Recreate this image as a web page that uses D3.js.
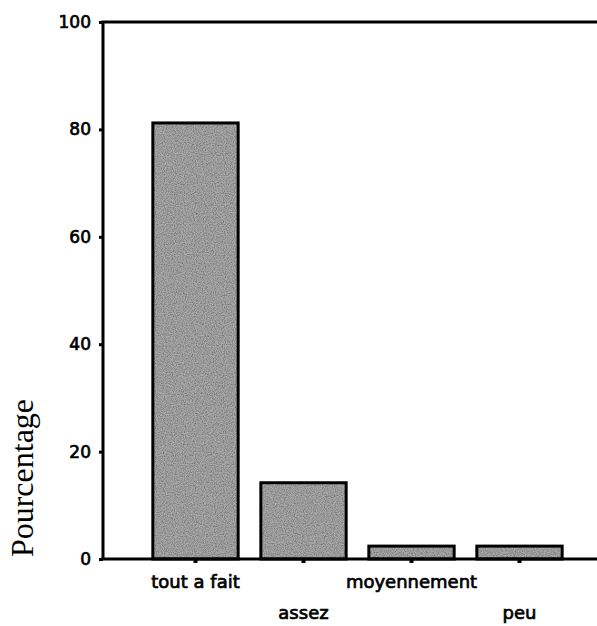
<!DOCTYPE html>
<html><head><meta charset="utf-8">
<script src="https://cdn.jsdelivr.net/npm/d3@7/dist/d3.min.js"></script>
<style>body{margin:0;background:#fff}svg{display:block}</style>
</head><body>
<script>
const categories = ["tout a fait", "assez", "moyennement", "peu"];
const values = [81.2, 14.2, 2.4, 2.4];
const yTicks = [0, 20, 40, 60, 80, 100];
const yLabel = "Pourcentage";

const W = 597, H = 626;
const svg = d3.select("body").append("svg").attr("width", W).attr("height", H);

const defs = svg.append("defs");
const f = defs.append("filter").attr("id","grain").attr("x",0).attr("y",0).attr("width",1).attr("height",1);
f.append("feTurbulence").attr("type","fractalNoise").attr("baseFrequency",0.9).attr("numOctaves",2).attr("seed",3).attr("result","n");
f.append("feColorMatrix").attr("in","n").attr("type","matrix")
 .attr("values","0 0 0 0 0  0 0 0 0 0  0 0 0 0 0  0 0 0 1.1 -0.35").attr("result","dark");
f.append("feComposite").attr("in","dark").attr("in2","SourceGraphic").attr("operator","in").attr("result","d2");
f.append("feMerge").call(m=>{m.append("feMergeNode").attr("in","SourceGraphic");m.append("feMergeNode").attr("in","d2");});

const x0 = 103, xEnd = 597, yTop = 22, yBot = 559;
const y = d3.scaleLinear().domain([0, 100]).range([yBot, yTop]);
const x = d3.scaleBand().domain(categories).range([141.5, 573.5]).paddingInner(0.21).paddingOuter(0.105);

// bars
svg.append("g").selectAll("rect").data(values).join("rect")
  .attr("x", (d,i) => x(categories[i]))
  .attr("y", d => y(d))
  .attr("width", x.bandwidth())
  .attr("height", d => y(0) - y(d))
  .attr("fill", "#aaaaaa")
  .attr("filter","url(#grain)");
svg.append("g").selectAll("rect").data(values).join("rect")
  .attr("x", (d,i) => x(categories[i]))
  .attr("y", d => y(d))
  .attr("width", x.bandwidth())
  .attr("height", d => y(0) - y(d))
  .attr("fill", "none").attr("stroke", "#000").attr("stroke-width", 3);

// frame lines
svg.append("line").attr("x1", x0).attr("x2", x0).attr("y1", yTop).attr("y2", yBot+1).attr("stroke","#000").attr("stroke-width",3);
svg.append("line").attr("x1", x0-1.5).attr("x2", xEnd).attr("y1", yTop).attr("y2", yTop).attr("stroke","#000").attr("stroke-width",3);
svg.append("line").attr("x1", x0-1.5).attr("x2", xEnd).attr("y1", yBot).attr("y2", yBot).attr("stroke","#000").attr("stroke-width",3);

// y axis
const yAxis = d3.axisLeft(y).tickValues(yTicks).tickSize(4).tickPadding(8);
const gy = svg.append("g").attr("transform", `translate(${x0},0)`).call(yAxis);
gy.select(".domain").remove();
gy.selectAll(".tick line").attr("stroke","#000").attr("stroke-width",3);
gy.selectAll(".tick text").attr("font-family","DejaVu Sans").attr("font-size",17)
  .attr("fill","#000").attr("stroke","#000").attr("stroke-width",0.7);

// x axis
const xAxis = d3.axisBottom(x).tickSize(4).tickPadding(10);
const gx = svg.append("g").attr("transform", `translate(0,${yBot})`).call(xAxis);
gx.select(".domain").remove();
gx.selectAll(".tick line").attr("stroke","#000").attr("stroke-width",4);
gx.selectAll(".tick text").attr("font-family","DejaVu Sans").attr("font-size",18)
  .attr("fill","#000").attr("stroke","#000").attr("stroke-width",0.7)
  .attr("dy", (d,i) => i % 2 === 0 ? "0.85em" : "2.55em");

// y label
svg.append("text").attr("transform","translate(33,478) rotate(-90)")
  .attr("text-anchor","middle").attr("font-family","Liberation Serif").attr("font-size",32)
  .attr("fill","#000").text(yLabel);
</script>
</body></html>
